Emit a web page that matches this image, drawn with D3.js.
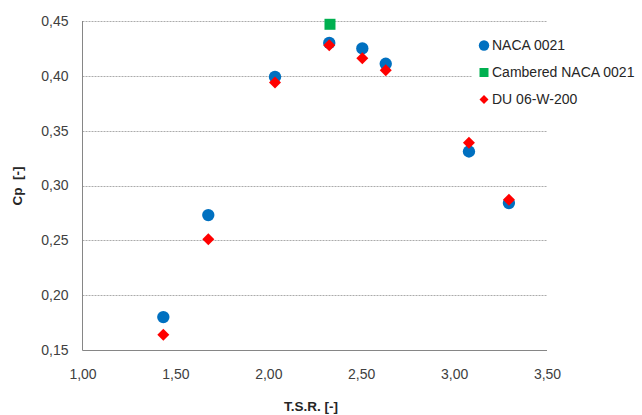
<!DOCTYPE html>
<html>
<head>
<meta charset="utf-8">
<script src="https://cdn.jsdelivr.net/npm/d3@7"></script>
<style>
  body { margin: 0; background: #fff; }
  text { font-family: "Liberation Sans", Arial, sans-serif; }
</style>
</head>
<body>
<svg id="chart"></svg>
<script>
// data
var tsr = [1.435, 1.677, 2.036, 2.328, 2.506, 2.632, 3.080, 3.295];
var cpNaca = [0.180, 0.273, 0.399, 0.430, 0.425, 0.411, 0.331, 0.284];
var cpDu = [0.164, 0.251, 0.394, 0.428, 0.416, 0.405, 0.339, 0.287];
var tsrCambered = [2.332];
var cpCambered = [0.447];

var seriesNames = ["NACA 0021", "Cambered NACA 0021", "DU 06-W-200"];
var seriesColors = ["#0070C0", "#00B050", "#FF0000"];
var xTicks = [1.0, 1.5, 2.0, 2.5, 3.0, 3.5];
var yTicks = [0.15, 0.20, 0.25, 0.30, 0.35, 0.40, 0.45];

var width = 642, height = 415;
var plotLeft = 82.5, plotRight = 547, plotTop = 21, plotBottom = 350;

var svg = d3.select("#chart").attr("width", width).attr("height", height);

var x = d3.scaleLinear().domain([1, 3.5]).range([plotLeft, plotRight]);
var y = d3.scaleLinear().domain([0.15, 0.45]).range([plotBottom, plotTop]);

var fmt = function(d) { return d3.format(".2f")(d).replace(".", ","); };

// gridlines
svg.append("g").selectAll("line")
	.data(yTicks.slice(1))
	.enter().append("line")
	.attr("x1", plotLeft).attr("x2", plotRight)
	.attr("y1", function(d) { return Math.round(y(d)) + 0.5; })
	.attr("y2", function(d) { return Math.round(y(d)) + 0.5; })
	.style("stroke", "#ababab").style("stroke-width", 1).style("stroke-dasharray", "2,1");

// axis lines
svg.append("line").attr("x1", plotLeft).attr("x2", plotLeft).attr("y1", plotTop).attr("y2", plotBottom + 0.5)
	.style("stroke", "#868686");
svg.append("line").attr("x1", plotLeft).attr("x2", plotRight).attr("y1", plotBottom + 0.5).attr("y2", plotBottom + 0.5)
	.style("stroke", "#868686");

// tick labels
var yAxis = d3.axisLeft(y).tickValues(yTicks).tickFormat(fmt).tickSize(0).tickPadding(14);
var gy = svg.append("g").attr("transform", "translate(" + plotLeft + ",0)").call(yAxis);
gy.select(".domain").remove();
gy.attr("font-family", null);
gy.selectAll("text").style("font-size", "14px").style("fill", "#404040");

var xAxis = d3.axisBottom(x).tickValues(xTicks).tickFormat(fmt).tickSize(0).tickPadding(19);
var gx = svg.append("g").attr("transform", "translate(0," + plotBottom + ")").call(xAxis);
gx.select(".domain").remove();
gx.attr("font-family", null);
gx.selectAll("text").style("font-size", "14px").style("fill", "#404040");

// axis titles
svg.append("text").attr("x", 311).attr("y", 411).attr("text-anchor", "middle")
	.style("font-size", "13.5px").style("font-weight", "bold").style("fill", "#262626")
	.text("T.S.R. [-]");
svg.append("text").attr("transform", "translate(22,186) rotate(-90)").attr("text-anchor", "middle")
	.style("font-size", "13.5px").style("font-weight", "bold").style("fill", "#262626")
	.style("white-space", "pre")
	.text("Cp  [-]");

// legend box (covers gridline)
svg.append("rect").attr("x", 472).attr("y", 30).attr("width", 170).attr("height", 84).style("fill", "#fff");

var circle = d3.symbol().type(d3.symbolCircle).size(120);
var diamond = d3.symbol().type(d3.symbolSquare).size(72);
var square = d3.symbol().type(d3.symbolSquare).size(121);

var pts = function(xs, ys) { return xs.map(function(d, i) { return [d, ys[i]]; }); };

// series
svg.append("g").selectAll("path")
	.data(pts(tsr, cpNaca)).enter().append("path")
	.attr("d", circle)
	.attr("transform", function(d) { return "translate(" + x(d[0]) + "," + y(d[1]) + ")"; })
	.style("fill", seriesColors[0]);

svg.append("g").selectAll("path")
	.data(pts(tsrCambered, cpCambered)).enter().append("path")
	.attr("d", square)
	.attr("transform", function(d) { return "translate(" + x(d[0]) + "," + y(d[1]) + ")"; })
	.style("fill", seriesColors[1]);

svg.append("g").selectAll("path")
	.data(pts(tsr, cpDu)).enter().append("path")
	.attr("d", diamond)
	.attr("transform", function(d) { return "translate(" + x(d[0]) + "," + y(d[1]) + ") rotate(45)"; })
	.style("fill", seriesColors[2]);

// legend
var legendSymbols = [d3.symbol().type(d3.symbolCircle).size(85), d3.symbol().type(d3.symbolSquare).size(81), d3.symbol().type(d3.symbolSquare).size(40)];
var lg = svg.append("g").selectAll("g").data(seriesNames).enter().append("g")
	.attr("transform", function(d, i) { return "translate(484," + (45.5 + i * 27) + ")"; });
lg.append("path")
	.attr("d", function(d, i) { return legendSymbols[i](); })
	.attr("transform", function(d, i) { return i == 2 ? "rotate(45)" : null; })
	.style("fill", function(d, i) { return seriesColors[i]; });
lg.append("text").attr("x", 8).attr("dy", "0.35em")
	.style("font-size", "14px").style("fill", "#262626")
	.text(function(d) { return d; });
</script>
</body>
</html>
